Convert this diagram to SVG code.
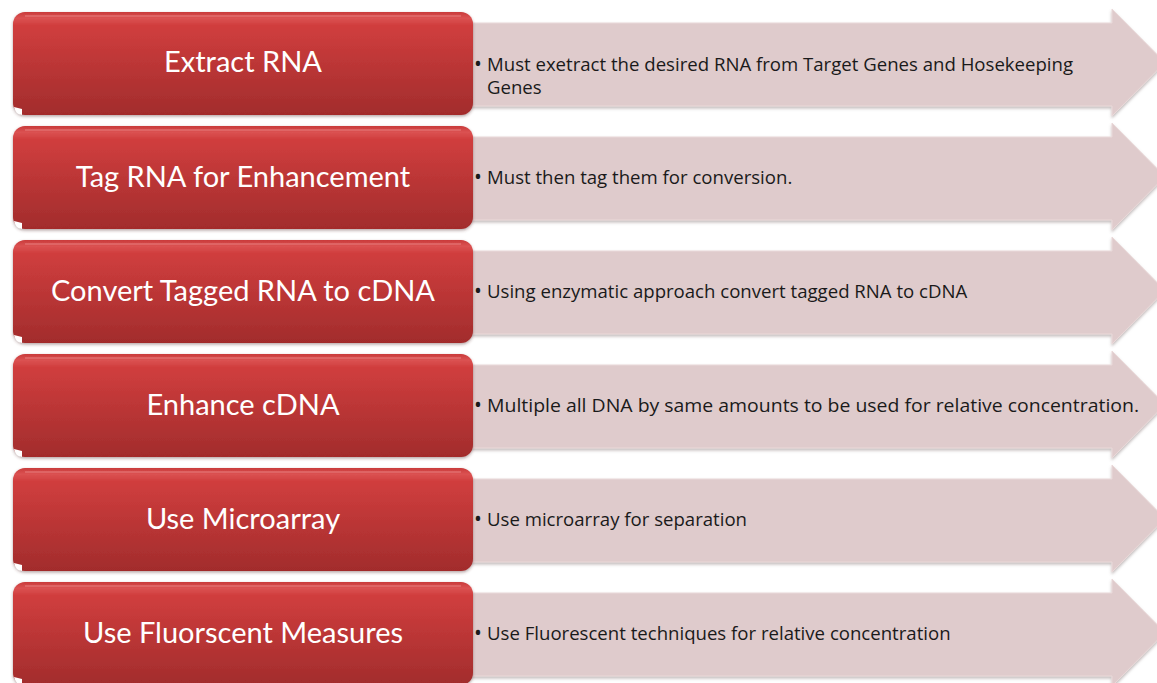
<svg xmlns="http://www.w3.org/2000/svg" width="1157" height="683" viewBox="0 0 1157 683">
<style>
.arrow{fill:#dfcbcc;stroke:#ead9d9;stroke-width:1;filter:url(#sh)}
.box{fill:url(#red);filter:url(#sh2)}
.gloss{fill:none;stroke:#e27070;stroke-width:2;opacity:.7}
.spot{fill:#ffffff}
.lbl{font-family:Lato,"Open Sans",sans-serif;font-size:29px;fill:#ffffff;text-anchor:middle}
.txt{font-family:"Open Sans",Lato,sans-serif;font-size:18.6px;fill:#1a1a1a}
.bul{font-family:"Open Sans",Lato,sans-serif;font-size:21px;fill:#1a1a1a}
</style>
<defs>
<linearGradient id="red" x1="0" y1="0" x2="0" y2="1">
<stop offset="0" stop-color="#c93a3a"/>
<stop offset="0.06" stop-color="#db5252"/>
<stop offset="0.13" stop-color="#d03e3e"/>
<stop offset="1" stop-color="#a22c2c"/>
</linearGradient>
<filter id="sh" x="-5%" y="-10%" width="110%" height="130%">
<feDropShadow dx="0" dy="2" stdDeviation="1.5" flood-color="#7a6a6a" flood-opacity="0.45"/>
</filter>
<filter id="sh2" x="-5%" y="-10%" width="110%" height="130%">
<feDropShadow dx="0" dy="1.5" stdDeviation="1.5" flood-color="#5a3030" flood-opacity="0.45"/>
</filter>
</defs>
<rect width="1157" height="683" fill="#ffffff"/>

<g id="step1">
<path class="arrow" d="M450,23 H1112 V9 L1165,62.5 L1112,116 V106 H450 Z"/>
<rect class="box" x="13" y="12" width="460" height="103" rx="12"/>
<path class="gloss" d="M25,16 H461"/>
<path class="spot" d="M14,107 Q15,114 22,115 L22,109 Z"/>
<text class="lbl" x="243" y="72">Extract RNA</text>
<text class="bul" x="474" y="71">•</text>
<text class="txt" x="487" y="71">Must exetract the desired RNA from Target Genes and Hosekeeping</text>
<text class="txt" x="487" y="94">Genes</text>
</g>

<g id="step2">
<path class="arrow" d="M450,137 H1112 V123 L1165,176.5 L1112,230 V220 H450 Z"/>
<rect class="box" x="13" y="126" width="460" height="103" rx="12"/>
<path class="gloss" d="M25,130 H461"/>
<path class="spot" d="M14,221 Q15,228 22,229 L22,223 Z"/>
<text class="lbl" x="243" y="187">Tag RNA for Enhancement</text>
<text class="bul" x="474" y="184">•</text>
<text class="txt" x="487" y="184">Must then tag them for conversion.</text>
</g>

<g id="step3">
<path class="arrow" d="M450,251 H1112 V237 L1165,290.5 L1112,344 V334 H450 Z"/>
<rect class="box" x="13" y="240" width="460" height="103" rx="12"/>
<path class="gloss" d="M25,244 H461"/>
<path class="spot" d="M14,335 Q15,342 22,343 L22,337 Z"/>
<text class="lbl" x="243" y="301">Convert Tagged RNA to cDNA</text>
<text class="bul" x="474" y="298">•</text>
<text class="txt" x="487" y="298">Using enzymatic approach convert tagged RNA to cDNA</text>
</g>

<g id="step4">
<path class="arrow" d="M450,365 H1112 V351 L1165,404.5 L1112,458 V448 H450 Z"/>
<rect class="box" x="13" y="354" width="460" height="103" rx="12"/>
<path class="gloss" d="M25,358 H461"/>
<path class="spot" d="M14,449 Q15,456 22,457 L22,451 Z"/>
<text class="lbl" x="243" y="415">Enhance cDNA</text>
<text class="bul" x="474" y="412">•</text>
<text class="txt" x="487" y="412" textLength="652" lengthAdjust="spacingAndGlyphs">Multiple all DNA by same amounts to be used for relative concentration.</text>
</g>

<g id="step5">
<path class="arrow" d="M450,479 H1112 V465 L1165,518.5 L1112,572 V562 H450 Z"/>
<rect class="box" x="13" y="468" width="460" height="103" rx="12"/>
<path class="gloss" d="M25,472 H461"/>
<path class="spot" d="M14,563 Q15,570 22,571 L22,565 Z"/>
<text class="lbl" x="243" y="529">Use Microarray</text>
<text class="bul" x="474" y="526">•</text>
<text class="txt" x="487" y="526">Use microarray for separation</text>
</g>

<g id="step6">
<path class="arrow" d="M450,593 H1112 V579 L1165,632.5 L1112,686 V676 H450 Z"/>
<rect class="box" x="13" y="582" width="460" height="103" rx="12"/>
<path class="gloss" d="M25,586 H461"/>
<path class="spot" d="M14,677 Q15,684 22,685 L22,679 Z"/>
<text class="lbl" x="243" y="643">Use Fluorscent Measures</text>
<text class="bul" x="474" y="640">•</text>
<text class="txt" x="487" y="640">Use Fluorescent techniques for relative concentration</text>
</g>

<g id="connectors"></g>
</svg>
